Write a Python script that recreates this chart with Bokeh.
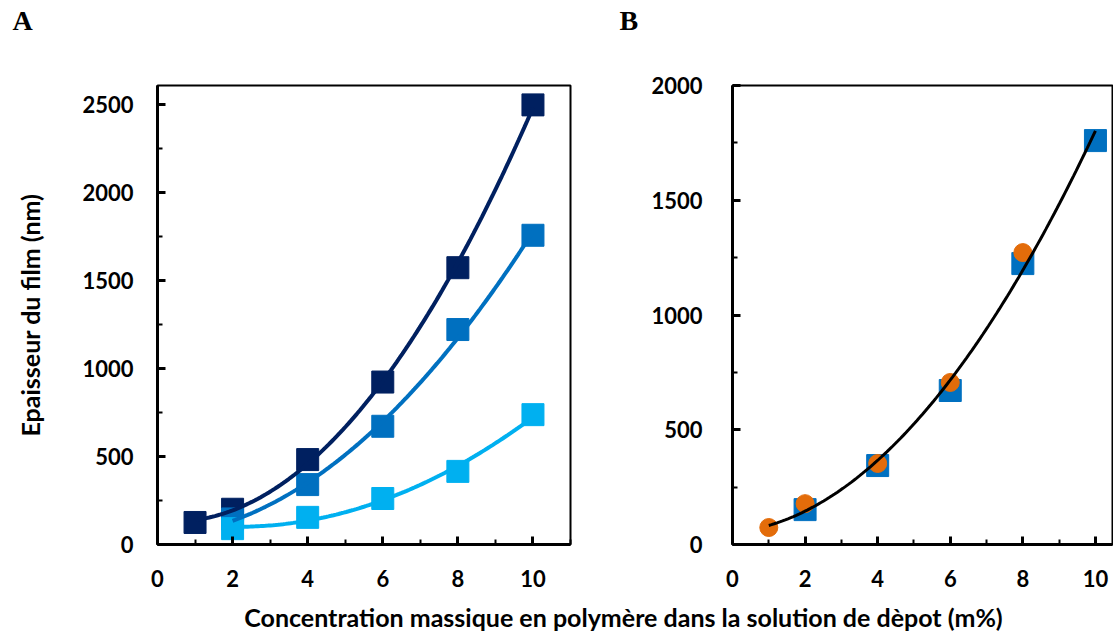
import numpy as np
from bokeh.plotting import figure
from bokeh.layouts import row, column
from bokeh.models import Range1d, FixedTicker
from bokeh.core.properties import value
from bokeh.embed import file_html
from bokeh.resources import INLINE

# ---------------- data ----------------
# Panel A
a_dark_x = [1, 2, 4, 6, 8, 10]
a_dark_y = [125, 200, 482, 922, 1571, 2495]
a_med_x = [2, 4, 6, 8, 10]
a_med_y = [145, 340, 671, 1220, 1755]
a_light_x = [2, 4, 6, 8, 10]
a_light_y = [90, 154, 261, 415, 737]
# Panel B
b_sq_x = [2, 4, 6, 8, 10]
b_sq_y = [152, 344, 671, 1224, 1760]
b_ci_x = [1, 2, 4, 6, 8]
b_ci_y = [74, 178, 353, 706, 1272]

x_major = [0, 2, 4, 6, 8, 10]
x_minor = [1, 3, 5, 7, 9, 11]
a_y_major = [0, 500, 1000, 1500, 2000, 2500]
a_y_minor = [250, 750, 1250, 1750, 2250]
b_y_major = [0, 500, 1000, 1500, 2000]
b_y_minor = [250, 750, 1250, 1750]

panel_labels = ["A", "B"]
x_title = "Concentration massique en polymère dans la solution de dèpot (m%)"
y_title = "Epaisseur du film (nm)"

DARK = "#002060"
MED = "#0070C0"
LIGHT = "#00B0F0"
ORANGE = "#E36C0A"
FONT = "Lato"

W = 1113
TOP_STRIP = 40
BOT_STRIP = 40
ROW_H = 635 - TOP_STRIP - BOT_STRIP
TOP = 85 - TOP_STRIP
FRAME_H = 459


def trend(xs, ys, deg=2, n=120):
    c = np.polyfit(xs, ys, deg)
    xx = np.linspace(min(xs), max(xs), n)
    return xx, np.polyval(c, xx)


def style(p, ymaj, ymin, ystand):
    p.outline_line_color = "black"
    p.outline_line_width = 2
    p.outline_line_alpha = 1
    p.grid.visible = False
    for ax in (p.xaxis[0], p.yaxis[0]):
        ax.axis_line_width = 3
        ax.axis_line_color = "black"
        ax.major_tick_in = 8
        ax.major_tick_out = 0
        ax.minor_tick_in = 5
        ax.minor_tick_out = 0
        ax.major_tick_line_width = 3
        ax.minor_tick_line_width = 2
        ax.major_tick_line_color = "black"
        ax.minor_tick_line_color = "black"
        ax.major_label_text_font = FONT
        ax.major_label_text_font_style = "bold"
        ax.major_label_text_font_size = "22px"
        ax.major_label_text_color = "black"
    p.xaxis[0].ticker = FixedTicker(ticks=x_major, minor_ticks=x_minor)
    p.yaxis[0].ticker = FixedTicker(ticks=ymaj, minor_ticks=ymin)
    p.xaxis[0].major_label_standoff = 25
    p.yaxis[0].major_label_standoff = ystand


def strip(h):
    s = figure(width=W, height=h, output_backend="svg", toolbar_location=None,
               x_range=Range1d(0, W), y_range=Range1d(0, h),
               min_border=0, x_axis_type=None, y_axis_type=None)
    s.outline_line_color = None
    s.grid.visible = False
    return s


# ---------------- top strip with panel letters ----------------
ptop = strip(TOP_STRIP)
ptop.text(x=[12, 619], y=[20, 20], text=panel_labels, text_font=value("Liberation Serif"),
          text_font_style="bold", text_font_size="28px", text_color="black",
          text_align="left", text_baseline="middle")

# ---------------- panel A ----------------
pa = figure(width=600, height=ROW_H, output_backend="svg", toolbar_location=None,
            x_range=Range1d(0, 11), y_range=Range1d(0, 2605),
            min_border_left=157, min_border_right=30, min_border_top=TOP,
            min_border_bottom=ROW_H - TOP - FRAME_H)
style(pa, a_y_major, a_y_minor, 24)
pa.yaxis[0].axis_label = y_title
pa.yaxis[0].axis_label_text_font = FONT
pa.yaxis[0].axis_label_text_font_style = "bold"
pa.yaxis[0].axis_label_text_font_size = "25px"
pa.yaxis[0].axis_label_text_color = "black"
pa.yaxis[0].axis_label_standoff = 34

pa.scatter(a_dark_x, a_dark_y, marker="square", size=22, color=DARK)
pa.scatter(a_med_x, a_med_y, marker="square", size=22, color=MED)
pa.scatter(a_light_x, a_light_y, marker="square", size=22, color=LIGHT)
for xs, ys, col in ((a_dark_x, a_dark_y, DARK), (a_med_x, a_med_y, MED), (a_light_x, a_light_y, LIGHT)):
    tx, ty = trend(xs, ys)
    pa.line(tx, ty, line_color=col, line_width=4)

# ---------------- panel B ----------------
pb = figure(width=513, height=ROW_H, output_backend="svg", toolbar_location=None,
            x_range=Range1d(0, 10.47), y_range=Range1d(0, 2000),
            min_border_left=132, min_border_right=1, min_border_top=TOP,
            min_border_bottom=ROW_H - TOP - FRAME_H)
style(pb, b_y_major, b_y_minor, 30)

pb.scatter(b_sq_x, b_sq_y, marker="square", size=22, color=MED)
pb.scatter(b_ci_x, b_ci_y, marker="circle", size=18, color=ORANGE)
tx, ty = trend(b_sq_x + b_ci_x, b_sq_y + b_ci_y)
pb.line(tx, ty, line_color="black", line_width=3)

# ---------------- shared x title ----------------
pbot = strip(BOT_STRIP)
pbot.text(x=[623], y=[19], text=[x_title], text_font=value(FONT), text_font_style="bold",
          text_font_size="25px", text_color="black", text_align="center", text_baseline="middle")

layout = column(ptop, row(pa, pb), pbot)
open("out.html", "w").write(file_html(layout, INLINE))
